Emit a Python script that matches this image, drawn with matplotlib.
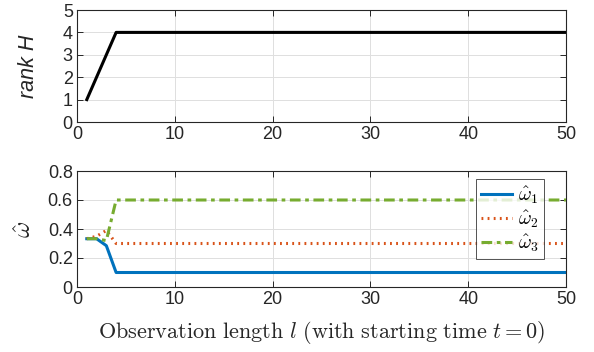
import matplotlib
matplotlib.use("Agg")
import matplotlib.pyplot as plt
import numpy as np

plt.rcParams['font.family'] = ['Liberation Sans', 'DejaVu Sans']
plt.rcParams['mathtext.fontset'] = 'cm'

# Data
l = np.arange(1, 51)
rank_H = [1, 2, 3] + [4] * 47
omega1 = [0.333, 0.333, 0.285] + [0.1] * 47
omega2 = [0.333, 0.35, 0.39] + [0.3] * 47
omega3 = [0.333, 0.333, 0.32] + [0.6] * 47

xticks = [0, 10, 20, 30, 40, 50]
yticks_top = [0, 1, 2, 3, 4, 5]
yticks_bot = [0, 0.2, 0.4, 0.6, 0.8]
ytick_labels_bot = ['0', '0.2', '0.4', '0.6', '0.8']

c1 = '#0072BD'
c2 = '#D95319'
c3 = '#77AC30'
axc = '#262626'

fig = plt.figure(figsize=(5.94, 3.52), dpi=100)
W = 566 - 77
ax1 = fig.add_axes([77/594, 1-122/352, W/594, (122-10)/352])
ax2 = fig.add_axes([77/594, 1-287/352, W/594, (287-171)/352])

def style(ax):
    for s in ax.spines.values():
        s.set_color(axc)
        s.set_linewidth(0.8)
    ax.tick_params(direction='in', top=True, right=True, length=4,
                   width=0.7, colors=axc, labelsize=13, pad=3)
    ax.grid(True, color='#dfdfdf', linewidth=0.7)
    ax.set_axisbelow(True)

ax1.plot(l, rank_H, color='black', linewidth=2.2)
ax1.set_xlim(0, 50)
ax1.set_ylim(0, 5)
ax1.set_xticks(xticks)
ax1.set_yticks(yticks_top)
ax1.set_ylabel('rank H', fontsize=15.5, style='italic', color=axc)
ax1.yaxis.set_label_coords((39 - 77) / W, 0.5)
style(ax1)

ax2.plot(l, omega1, color=c1, linewidth=2.2, label=r'$\hat{\omega}_1$')
ax2.plot(l, omega2, color=c2, linewidth=2.2, linestyle=(0, (0.6, 1.4)),
         label=r'$\hat{\omega}_2$')
ax2.plot(l, omega3, color=c3, linewidth=2.2, linestyle=(0, (3.5, 1.5, 1.2, 1.5)),
         label=r'$\hat{\omega}_3$')
ax2.set_xlim(0, 50)
ax2.set_ylim(0, 0.8)
ax2.set_xticks(xticks)
ax2.set_yticks(yticks_bot)
ax2.set_yticklabels(ytick_labels_bot)
ax2.set_ylabel(r'$\hat{\omega}$', fontsize=18, color=axc)
ax2.yaxis.set_label_coords((36 - 77) / W, 0.5)
ax2.set_xlabel(r'$\mathrm{Observation\ length\ }l\mathrm{\ (with\ starting\ time\ }t=0\mathrm{)}$',
               fontsize=16, color=axc)
ax2.xaxis.set_label_coords(0.5, (287 - 319) / 116)
style(ax2)

leg = ax2.legend(loc='upper right', bbox_to_anchor=((544-77)/W, 1-(179-171)/(287-171)),
                 fontsize=14, frameon=True, fancybox=False, handlelength=1.6,
                 handletextpad=0.3, borderpad=0.25, labelspacing=0.12, borderaxespad=0)
leg.get_frame().set_edgecolor(axc)
leg.get_frame().set_linewidth(0.7)

fig.savefig('out.png', dpi=100)
